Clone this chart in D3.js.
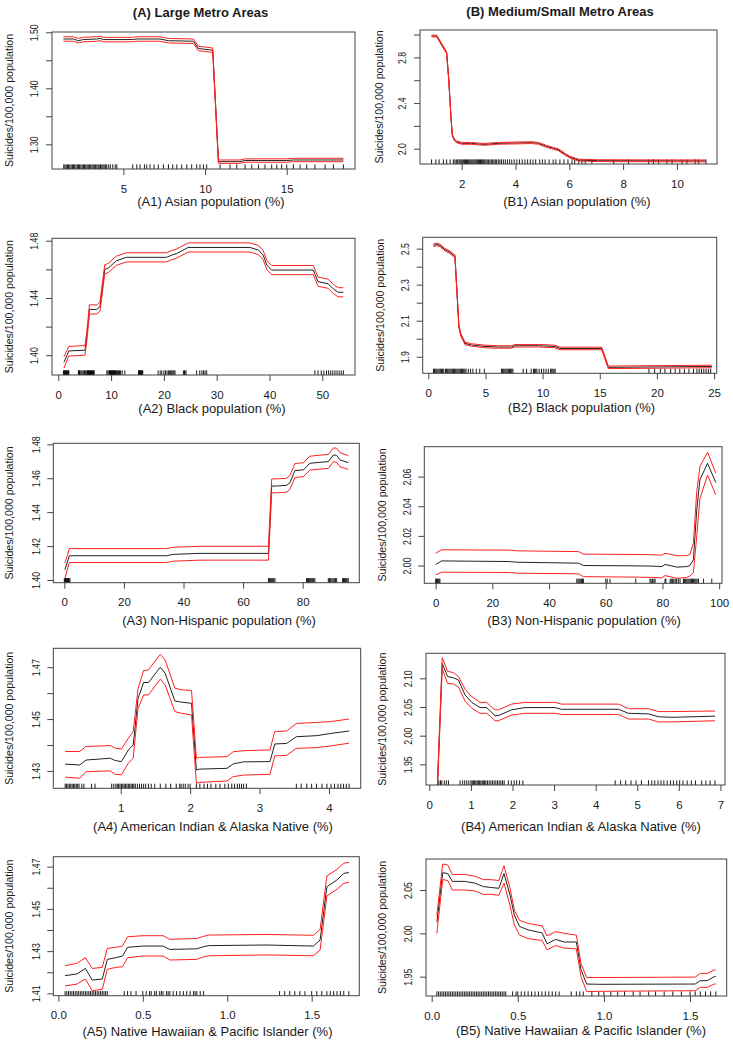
<!DOCTYPE html>
<html><head><meta charset="utf-8">
<script src="https://cdn.jsdelivr.net/npm/d3@7"></script>
<style>
html,body{margin:0;padding:0;background:#fff;}
svg{display:block;font-family:"Liberation Sans",Arial,Helvetica,sans-serif;}
</style></head><body>
<svg id="chart" width="733" height="1043"></svg>
<script>
// ---------------- DATA ----------------
const columnTitles = ["(A) Large Metro Areas", "(B) Medium/Small Metro Areas"];
const yAxisTitle = "Suicides/100,000 population";
const xAxisTitles = [
  "(A1) Asian population (%)", "(B1) Asian population (%)",
  "(A2) Black population (%)", "(B2) Black population (%)",
  "(A3) Non-Hispanic population (%)", "(B3) Non-Hispanic population (%)",
  "(A4) American Indian & Alaska Native (%)", "(B4) American Indian & Alaska Native (%)",
  "(A5) Native Hawaiian & Pacific Islander (%)", "(B5) Native Hawaiian & Pacific Islander (%)"
];

// A1 Asian, large metro
const a1X    = [1.33,1.94,2.24,2.55,3.37,3.57,3.78,5.61,5.82,7.24,7.76,9.29,9.59,9.90,10.47,10.82,12.14,12.45,15.0,15.41,18.47];
const a1Mean = [1.488,1.488,1.485,1.487,1.488,1.489,1.487,1.487,1.488,1.488,1.485,1.484,1.471,1.470,1.468,1.269,1.269,1.271,1.271,1.272,1.272];
const a1Hi   = [1.492,1.492,1.489,1.491,1.492,1.493,1.491,1.491,1.492,1.492,1.489,1.488,1.475,1.474,1.472,1.272,1.272,1.274,1.274,1.275,1.275];
const a1Lo   = [1.484,1.484,1.481,1.483,1.484,1.485,1.483,1.483,1.484,1.484,1.481,1.480,1.467,1.466,1.464,1.266,1.266,1.268,1.268,1.269,1.269];
const a1Rug  = [1.35,1.42,1.5,1.58,1.65,1.72,1.8,1.88,1.95,2.02,2.1,2.18,2.25,2.32,2.4,2.48,2.55,2.62,2.7,2.78,2.85,2.92,3.0,3.08,3.15,3.22,3.3,3.38,3.45,3.52,3.6,3.68,3.75,3.82,3.9,3.98,4.1,4.2,4.35,4.5,4.6,
  5.57,5.82,6.02,6.29,6.43,6.63,6.88,7.14,7.45,7.76,8.02,8.27,8.57,8.88,9.18,9.49,9.69,9.9,10.1,10.92,11.53,11.94,12.45,12.86,13.27,13.67,14.08,14.39,14.69,15.0,15.41,15.82,16.22,16.73,17.35,17.86,18.47];
const a1XTicks = [5,10,15];
const a1YTicks = [1.30,1.35,1.40,1.45,1.50];
const a1YLabeled = [1.30,1.40,1.50];

// B1 Asian, medium/small metro
const b1X    = [0.88,1.07,1.44,1.52,1.60,1.65,1.72,1.81,2.0,2.37,2.62,2.87,3.36,4.6,4.85,5.16,5.41,5.6,5.85,6.03,6.34,7.09,11.08];
const b1Mean = [2.987,2.987,2.84,2.60,2.28,2.12,2.08,2.06,2.047,2.047,2.041,2.038,2.047,2.053,2.047,2.02,2.003,1.99,1.95,1.925,1.90,1.895,1.893];
const b1Hi   = [2.995,2.995,2.848,2.608,2.288,2.128,2.088,2.068,2.055,2.055,2.049,2.046,2.055,2.061,2.055,2.028,2.011,1.998,1.958,1.933,1.908,1.903,1.901];
const b1Lo   = [2.979,2.979,2.832,2.592,2.272,2.112,2.072,2.052,2.039,2.039,2.033,2.030,2.039,2.045,2.039,2.012,1.995,1.982,1.942,1.917,1.892,1.887,1.885];
const b1Rug  = [0.88,1.04,1.16,1.32,1.44,1.57,1.69,1.75,1.8,1.85,1.9,1.94,1.98,2.02,2.06,2.1,2.14,2.18,2.22,2.26,2.3,2.34,2.38,2.42,2.46,2.5,2.54,2.58,2.62,2.66,2.7,2.74,2.78,2.82,2.86,2.9,2.95,3.0,3.05,3.1,3.15,3.2,3.25,3.3,3.36,3.42,3.48,3.55,3.62,3.7,3.78,3.86,3.95,4.05,4.15,4.25,4.35,4.45,4.55,4.65,4.75,4.9,5.0,5.1,5.25,5.4,5.5,5.65,5.8,5.95,6.1,6.2,6.35,6.47,6.59,6.84,7.65,8.2,8.95,9.13,9.32,9.63,9.82,10.19,10.37,10.68,10.81,11.08];
const b1XTicks = [2,4,6,8,10];
const b1YTicks = [2.0,2.2,2.4,2.6,2.8,3.0];
const b1YLabeled = [2.0,2.4,2.8];

// A2 Black, large metro
const a2X    = [1.07,2.0,5.05,5.4,5.9,7.3,7.9,8.8,9.5,11.0,12.9,20.5,21.5,22.4,24.6,36.3,37.9,38.8,39.5,40.4,48.3,49.2,51.1,52.1,53.0,54.0];
const a2Mean = [1.3950,1.4030,1.4035,1.4130,1.4320,1.4320,1.4340,1.4600,1.4610,1.4660,1.4684,1.4684,1.4700,1.4710,1.4753,1.4753,1.4735,1.4700,1.4630,1.4595,1.4595,1.4514,1.4500,1.4463,1.4440,1.4440];
const a2Hi   = [1.3990,1.4062,1.4067,1.4162,1.4352,1.4352,1.4372,1.4632,1.4642,1.4692,1.4716,1.4716,1.4732,1.4742,1.4785,1.4785,1.4767,1.4732,1.4662,1.4627,1.4627,1.4546,1.4532,1.4495,1.4472,1.4472];
const a2Lo   = [1.3910,1.3995,1.4000,1.4095,1.4288,1.4288,1.4308,1.4568,1.4578,1.4628,1.4652,1.4652,1.4668,1.4678,1.4721,1.4721,1.4703,1.4668,1.4598,1.4563,1.4563,1.4482,1.4468,1.4431,1.4408,1.4408];
const a2Rug  = [1.0,1.1,1.2,1.3,1.4,1.5,1.6,1.7,1.8,1.9,2.0,
  3.8,3.9,4.0,4.1,4.3,4.5,4.7,4.9,5.0,5.2,5.4,5.5,5.6,5.7,5.8,5.9,6.0,6.1,6.2,6.3,6.4,6.5,6.6,6.7,6.8,
  9.2,9.4,9.6,9.7,9.8,9.9,10.0,10.1,10.2,10.3,10.4,10.5,10.6,10.7,10.8,10.9,11.0,11.2,11.4,11.6,11.8,12.1,12.6,
  15.2,15.3,15.4,15.5,15.6,15.7,15.8,15.9,16.0,
  18.9,19.3,19.6,20.0,20.3,20.6,20.9,21.1,21.3,21.5,21.7,21.9,22.1,
  23.7,23.9,24.0,24.2, 26.2,26.8,27.2,27.5,27.8,28.1,
  48.6,49.2,49.8,50.3,50.8,51.2,51.6,52.0,52.4,52.8,53.2,53.6,54.0];
const a2XTicks = [0,10,20,30,40,50];
const a2YTicks = [1.40,1.42,1.44,1.46,1.48];
const a2YLabeled = [1.40,1.44,1.48];

// B2 Black, medium/small metro
const b2X    = [0.44,0.73,1.02,1.46,1.9,2.19,2.33,2.68,2.86,3.21,3.79,4.96,6.13,7.29,7.58,9.63,11.08,11.52,15.17,15.75,24.8];
const b2Mean = [2.518,2.524,2.518,2.494,2.48,2.463,2.459,2.066,2.02,1.974,1.965,1.957,1.954,1.954,1.961,1.961,1.957,1.946,1.946,1.841,1.846];
const b2Hi   = [2.525,2.531,2.525,2.501,2.487,2.470,2.466,2.073,2.027,1.981,1.972,1.964,1.961,1.961,1.968,1.968,1.964,1.953,1.953,1.848,1.853];
const b2Lo   = [2.511,2.517,2.511,2.487,2.473,2.456,2.452,2.059,2.013,1.967,1.958,1.950,1.947,1.947,1.954,1.954,1.950,1.939,1.939,1.834,1.839];
const b2Rug  = [0.45,0.55,0.65,0.75,0.85,0.95,1.05,1.15,1.25,1.35,1.5,1.6,1.7,1.8,1.9,2.0,2.1,2.2,2.3,2.4,2.5,2.6,2.7,2.8,2.9,3.0,3.1,3.2,3.3,
  3.5,3.7,3.9,4.2,4.5,4.9, 6.4,6.5,6.6,6.7,6.8,6.9,7.0,7.1,7.2,7.3,7.4, 8.3,8.6,9.0, 9.2,9.3,9.4,9.5,
  9.7,9.9,10.1,10.3,10.5,10.7,10.8,10.9,11.0,11.1,
  19.3,19.8,20.3,20.7,21.2,21.6,22.0,22.4,22.8,23.2,23.5,23.7,23.9,24.1,24.3,24.5,24.7];
const b2XTicks = [0,5,10,15,20,25];
const b2YTicks = [1.9,2.0,2.1,2.2,2.3,2.4,2.5];
const b2YLabeled = [1.9,2.1,2.3,2.5];

// A3 Non-Hispanic, large metro
const a3X    = [0.2,1.7,34.3,36.6,45.5,68.5,69.6,71.3,74.6,75.7,77.4,80.2,82.4,85.8,88.6,90.3,91.4,92.5,95.3];
const a3Mean = [1.4060,1.4143,1.4143,1.4151,1.4157,1.4157,1.4554,1.4554,1.4558,1.4574,1.4645,1.4649,1.4688,1.4694,1.4698,1.4737,1.4735,1.4708,1.4692];
const a3Hi   = [1.4100,1.4185,1.4185,1.4193,1.4199,1.4199,1.4596,1.4596,1.4600,1.4616,1.4687,1.4691,1.4730,1.4736,1.4740,1.4779,1.4777,1.4750,1.4734];
const a3Lo   = [1.4010,1.4103,1.4103,1.4111,1.4117,1.4117,1.4514,1.4514,1.4518,1.4534,1.4605,1.4609,1.4648,1.4654,1.4658,1.4697,1.4695,1.4668,1.4652];
const a3Rug  = [0.0,0.2,0.4,0.6,0.8,1.0,1.2,1.4,1.6,1.9,
  68.5,68.8,69.1,69.4,69.7,70.0,70.3,70.7,
  81.3,81.6,81.9,82.2,82.5,82.8,83.1,83.4,83.7,84.1,
  88.6,89.0,89.4,89.8,90.2,90.6,91.0,91.4,
  93.4,93.7,94.0,94.3,94.6,94.9,95.3];
const a3XTicks = [0,20,40,60,80];
const a3YTicks = [1.40,1.42,1.44,1.46,1.48];
const a3YLabeled = [1.40,1.42,1.44,1.46,1.48];

// B3 Non-Hispanic, medium/small metro
const b3X    = [0,2.1,25.6,29.2,50.4,52.1,69.2,76.2,79.8,80.9,82.7,85.1,88.6,89.7,90.9,92.1,93.2,95.9,98.8];
const b3Mean = [2.0007,2.0031,2.0027,2.0022,2.0016,2.0000,1.9998,1.9996,1.9993,2.0007,2.0000,1.9989,1.9993,2.0000,2.0038,2.0375,2.0578,2.0690,2.0560];
const b3Hi   = [2.0083,2.0106,2.0104,2.0099,2.0094,2.0077,2.0075,2.0073,2.0070,2.0083,2.0076,2.0066,2.0067,2.0075,2.0150,2.0500,2.0667,2.0765,2.0623];
const b3Lo   = [1.9937,1.9955,1.9953,1.9948,1.9944,1.9925,1.9922,1.9920,1.9917,1.9932,1.9925,1.9913,1.9920,1.9930,1.9950,2.0200,2.0450,2.0611,2.0477];
const b3Rug  = [0,0.3,0.6,0.9,1.2,1.5, 49.8,50.2,50.6,51.0,51.4,51.8,52.1, 60.0,60.5,61.5, 70.6,
  75.6,76.0,76.5,77.0,77.4, 80.9,81.2, 82.7,83.1,83.5,84.0,84.5,85.0,85.6,86.2,
  87.4,87.8,88.2,88.6,89.0,89.4,89.8,90.2,90.6,91.0,91.4,91.8,92.2,92.7, 94.5,97.4];
const b3XTicks = [0,20,40,60,80,100];
const b3YTicks = [2.00,2.02,2.04,2.06];
const b3YLabeled = [2.00,2.02,2.04,2.06];

// A4 American Indian & Alaska Native, large metro
const a4X    = [0.2,0.41,0.5,0.85,0.92,1.01,1.11,1.18,1.25,1.33,1.40,1.57,1.64,1.78,1.88,2.02,2.09,2.14,2.53,2.62,2.77,3.15,3.22,3.39,3.53,3.82,4.01,4.29];
const a4Mean = [1.4326,1.4323,1.4342,1.4349,1.4340,1.4336,1.4381,1.4400,1.4580,1.4641,1.4641,1.4700,1.4677,1.4570,1.4565,1.4561,1.4304,1.4307,1.4310,1.4327,1.4335,1.4336,1.4404,1.4406,1.4432,1.4436,1.4444,1.4454];
const a4Hi   = [1.4375,1.4375,1.4394,1.4398,1.4388,1.4384,1.4426,1.4452,1.4619,1.4687,1.4690,1.4750,1.4728,1.4619,1.4613,1.4610,1.4349,1.4352,1.4355,1.4374,1.4378,1.4381,1.4452,1.4454,1.4483,1.4487,1.4490,1.4500];
const a4Lo   = [1.4276,1.4272,1.4297,1.4300,1.4287,1.4285,1.4330,1.4349,1.4542,1.4593,1.4593,1.4654,1.4632,1.4529,1.4522,1.4516,1.4252,1.4256,1.4261,1.4278,1.4284,1.4287,1.4358,1.4360,1.4387,1.4390,1.4396,1.4407];
const a4Rug  = [0.2,0.22,0.24,0.26,0.28,0.3,0.32,0.34,0.36,0.38,0.4,0.44,0.47,0.58,0.63,
  0.87,0.9,0.93,0.95,0.97,0.99,1.01,1.03,1.05,1.07,1.09,1.11,1.13,1.15,1.17,1.19,1.21,1.24,1.27,1.3,1.33,1.36,1.4,1.44,1.49,
  1.57,1.65,1.72,1.8, 1.85,1.87,1.9,1.93,1.97,2.0,
  2.09,2.14,2.2,2.25,2.3,2.37,2.43,2.5,2.55,2.6,2.64,2.68,2.71,2.74,2.77,2.81,
  3.53,3.6,3.68,3.75,3.82,3.9,3.97,4.03,4.08,4.13,4.17,4.21,4.25,4.29];
const a4XTicks = [1,2,3,4];
const a4YTicks = [1.43,1.44,1.45,1.46,1.47];
const a4YLabeled = [1.43,1.45,1.47];

// B4 American Indian & Alaska Native, medium/small metro
const b4X    = [0.2,0.31,0.44,0.58,0.70,0.86,1.02,1.22,1.38,1.48,1.58,1.66,1.98,2.30,3.02,3.18,4.55,4.79,5.27,5.51,5.83,6.87];
const b4Mean = [1.922,2.126,2.103,2.101,2.097,2.071,2.058,2.049,2.049,2.042,2.035,2.035,2.045,2.049,2.049,2.046,2.046,2.039,2.038,2.033,2.032,2.034];
const b4Hi   = [1.928,2.136,2.112,2.110,2.103,2.081,2.068,2.058,2.058,2.051,2.045,2.045,2.055,2.058,2.058,2.055,2.055,2.047,2.047,2.042,2.042,2.043];
const b4Lo   = [1.916,2.117,2.091,2.090,2.085,2.060,2.048,2.039,2.039,2.033,2.026,2.026,2.036,2.039,2.039,2.037,2.037,2.029,2.029,2.024,2.024,2.026];
const b4Rug  = [0.2,0.23,0.27,0.3,0.36,0.41,0.46,
  0.74,0.8,0.85,0.9,0.95,1.0,1.03,1.06,1.09,1.12,1.15,1.18,1.21,1.24,1.27,1.3,1.33,1.36,1.4,1.44,1.48,1.52,1.56,1.6,1.64,1.68,1.72,1.76,1.8,
  1.9,1.97,2.04,2.1,2.17,2.25,
  4.47,4.6,4.72,4.85,4.97,5.1,5.27,5.35,5.42,5.5,5.57,5.64,5.72,5.8,5.87,5.95,6.02,6.1,6.2,6.3,6.4,6.55,6.65,6.75,6.87];
const b4XTicks = [0,1,2,3,4,5,6,7];
const b4YTicks = [1.95,2.00,2.05,2.10];
const b4YLabeled = [1.95,2.00,2.05,2.10];

// A5 Native Hawaiian & Pacific Islander, large metro
const a5X    = [0.04,0.11,0.16,0.20,0.26,0.29,0.34,0.38,0.41,0.50,0.62,0.66,0.82,0.86,0.89,1.23,1.51,1.55,1.59,1.65,1.69,1.72];
const a5Mean = [1.4184,1.4192,1.4218,1.4163,1.4168,1.4261,1.4269,1.4277,1.4318,1.4324,1.4324,1.4308,1.4311,1.4321,1.4326,1.4329,1.4324,1.4353,1.4605,1.4637,1.4668,1.4672];
const a5Hi   = [1.4231,1.4242,1.4269,1.4218,1.4223,1.4313,1.4318,1.4324,1.4368,1.4373,1.4373,1.4356,1.4360,1.4370,1.4376,1.4379,1.4375,1.4403,1.4656,1.4687,1.4716,1.4720];
const a5Lo   = [1.4135,1.4144,1.4168,1.4113,1.4119,1.4214,1.4223,1.4226,1.4269,1.4277,1.4277,1.4258,1.4261,1.4273,1.4278,1.4282,1.4278,1.4305,1.4561,1.4593,1.4621,1.4626];
const a5Rug  = [0.04,0.05,0.06,0.07,0.08,0.09,0.1,0.11,0.12,0.13,0.14,0.15,0.16,0.17,0.18,0.19,0.2,0.21,0.22,0.23,0.24,0.25,0.26,0.27,0.28,0.29,
  0.39,0.41,0.43,0.46,
  0.5,0.52,0.54,0.55,0.57,0.58,0.6,0.61,0.62,0.64,0.65,0.66,0.68,0.7,0.72,0.74,0.76,0.78,0.8,0.81,0.82,0.84,0.86,
  1.31,1.34,1.37,1.4,1.43,1.46,1.5,1.53,1.56,1.59,1.61,1.63,1.65,1.67,1.69,1.72];
const a5XTicks = [0,0.5,1.0,1.5];
const a5YTicks = [1.41,1.42,1.43,1.44,1.45,1.46,1.47];
const a5YLabeled = [1.41,1.43,1.45,1.47];

// B5 Native Hawaiian & Pacific Islander, medium/small metro
const b5X    = [0.03,0.064,0.093,0.12,0.19,0.25,0.30,0.34,0.39,0.42,0.455,0.48,0.51,0.56,0.63,0.64,0.67,0.72,0.77,0.84,0.867,0.90,0.97,1.53,1.56,1.60,1.64,1.65];
const b5Mean = [2.013,2.070,2.069,2.060,2.060,2.058,2.054,2.053,2.052,2.069,2.044,2.021,2.008,2.004,2.001,2.001,1.988,1.993,1.990,1.990,1.958,1.9415,1.9412,1.9415,1.9454,1.9454,1.950,1.950];
const b5Hi   = [2.021,2.080,2.079,2.068,2.068,2.066,2.062,2.062,2.061,2.078,2.052,2.027,2.015,2.0115,2.009,2.009,1.997,2.002,2.000,1.998,1.965,1.949,1.949,1.9495,1.9538,1.9538,1.9577,1.9577];
const b5Lo   = [2.000,2.062,2.061,2.050,2.050,2.049,2.045,2.045,2.044,2.058,2.032,2.0096,1.998,1.994,1.992,1.992,1.981,1.986,1.983,1.982,1.950,1.9327,1.9331,1.9338,1.9377,1.9377,1.9415,1.9415];
const b5Rug  = [0.03,0.04,0.05,0.06,0.07,0.08,0.09,0.1,0.11,0.12,0.13,0.14,0.15,0.16,0.17,0.18,0.19,0.2,0.21,0.22,0.23,0.24,0.25,0.26,0.27,0.28,0.29,0.3,0.31,0.32,0.33,0.34,0.35,0.36,0.37,0.38,0.39,0.4,0.41,0.42,0.43,
  0.47,0.49,0.5,0.52,0.54,0.56,0.58,0.6,0.62,0.64,0.66,0.68,0.7,0.72,0.74,
  0.81,0.84,0.86,0.88,
  0.93,0.97,1.0,1.04,1.08,1.12,1.17,1.21,1.26,1.3,1.35,1.4,1.45,1.5,1.53,1.56,1.59,1.62,1.65];
const b5XTicks = [0,0.5,1.0,1.5];
const b5YTicks = [1.95,2.00,2.05];
const b5YLabeled = [1.95,2.00,2.05];

// ---------------- LAYOUT ----------------
const panels = [
  {box:[52,32,355,169],      xDom:[0.63,19.18],  yDom:[1.2559,1.5005], x:a1X,m:a1Mean,hi:a1Hi,lo:a1Lo,rug:a1Rug,xt:a1XTicks,yt:a1YTicks,yl:a1YLabeled,xf:"d",  yf:".2f",lab:xAxisTitles[0],labPos:[211,201.5],ylx:9},
  {box:[420,30,717,164],     xDom:[0.45,11.49],  yDom:[1.866,3.04],    x:b1X,m:b1Mean,hi:b1Hi,lo:b1Lo,rug:b1Rug,xt:b1XTicks,yt:b1YTicks,yl:b1YLabeled,xf:"d",  yf:".1f",lab:xAxisTitles[1],labPos:[577,201.5],ylx:378.5},
  {box:[52,238.3,355,375],   xDom:[-1.19,56.2],  yDom:[1.3862,1.4817], x:a2X,m:a2Mean,hi:a2Hi,lo:a2Lo,rug:a2Rug,xt:a2XTicks,yt:a2YTicks,yl:a2YLabeled,xf:"d",  yf:".2f",lab:xAxisTitles[2],labPos:[212,408],ylx:9},
  {box:[422.7,237.3,716.7,373.3], xDom:[-0.49,25.23], yDom:[1.808,2.563], x:b2X,m:b2Mean,hi:b2Hi,lo:b2Lo,rug:b2Rug,xt:b2XTicks,yt:b2YTicks,yl:b2YLabeled,xf:"d",  yf:".1f",lab:xAxisTitles[3],labPos:[581.5,407],ylx:380},
  {box:[53.3,443.3,359.3,582.7], xDom:[-3.7,99.0], yDom:[1.3984,1.4806], x:a3X,m:a3Mean,hi:a3Hi,lo:a3Lo,rug:a3Rug,xt:a3XTicks,yt:a3YTicks,yl:a3YLabeled,xf:"d",  yf:".2f",lab:xAxisTitles[4],labPos:[219,620],ylx:9},
  {box:[424.3,446.7,722,583.3],  xDom:[-4.0,101.0], yDom:[1.988,2.0802], x:b3X,m:b3Mean,hi:b3Hi,lo:b3Lo,rug:b3Rug,xt:b3XTicks,yt:b3YTicks,yl:b3YLabeled,xf:"d",  yf:".2f",lab:xAxisTitles[5],labPos:[584,620],ylx:381.7},
  {box:[53.3,648.3,360.7,788.3], xDom:[0.029,4.457], yDom:[1.4233,1.4773], x:a4X,m:a4Mean,hi:a4Hi,lo:a4Lo,rug:a4Rug,xt:a4XTicks,yt:a4YTicks,yl:a4YLabeled,xf:"d",  yf:".2f",lab:xAxisTitles[6],labPos:[213,826],ylx:9},
  {box:[426,653.3,725,785],      xDom:[-0.08,7.11], yDom:[1.914,2.1436], x:b4X,m:b4Mean,hi:b4Hi,lo:b4Lo,rug:b4Rug,xt:b4XTicks,yt:b4YTicks,yl:b4YLabeled,xf:"d",  yf:".2f",lab:xAxisTitles[7],labPos:[581,826],ylx:381.7},
  {box:[53.3,856.7,359.3,995.7], xDom:[-0.03,1.782], yDom:[1.4089,1.4747], x:a5X,m:a5Mean,hi:a5Hi,lo:a5Lo,rug:a5Rug,xt:a5XTicks,yt:a5YTicks,yl:a5YLabeled,xf:".1f",yf:".2f",lab:xAxisTitles[8],labPos:[207.5,1031.5],ylx:9},
  {box:[426,859,726.7,996],      xDom:[-0.033,1.713], yDom:[1.9277,2.0858], x:b5X,m:b5Mean,hi:b5Hi,lo:b5Lo,rug:b5Rug,xt:b5XTicks,yt:b5YTicks,yl:b5YLabeled,xf:".1f",yf:".2f",lab:xAxisTitles[9],labPos:[581,1030],ylx:381.7}
];

const svg = d3.select("#chart");
const TXT = "#1a1a1a";

svg.append("text").attr("x",200.5).attr("y",12).attr("text-anchor","middle").attr("dominant-baseline","central")
  .attr("font-size",13).attr("font-weight","bold").attr("fill",TXT).text(columnTitles[0]);
svg.append("text").attr("x",560).attr("y",11.5).attr("text-anchor","middle").attr("dominant-baseline","central")
  .attr("font-size",13).attr("font-weight","bold").attr("fill",TXT).text(columnTitles[1]);

panels.forEach(p => {
  const [l,t,r,b] = p.box;
  const x = d3.scaleLinear().domain(p.xDom).range([l,r]);
  const y = d3.scaleLinear().domain(p.yDom).range([b,t]);
  const g = svg.append("g");

  // rug
  g.append("g").selectAll("line").data(p.rug).join("line")
    .attr("x1",d=>x(d)).attr("x2",d=>x(d)).attr("y1",b).attr("y2",b-4.6)
    .attr("stroke","#000").attr("stroke-width",0.9);

  const line = d3.line().x(d=>x(d[0])).y(d=>y(d[1]));
  g.append("path").attr("d",line(d3.zip(p.x,p.m))).attr("fill","none").attr("stroke","#222").attr("stroke-width",1);
  g.append("path").attr("d",line(d3.zip(p.x,p.hi))).attr("fill","none").attr("stroke","#ff2020").attr("stroke-width",1);
  g.append("path").attr("d",line(d3.zip(p.x,p.lo))).attr("fill","none").attr("stroke","#ff2020").attr("stroke-width",1);

  // box
  g.append("rect").attr("x",l).attr("y",t).attr("width",r-l).attr("height",b-t)
    .attr("fill","none").attr("stroke","#444").attr("stroke-width",1);

  // x axis
  const fx = d3.format(p.xf);
  const xa = g.append("g").attr("transform",`translate(0,${b})`)
    .call(d3.axisBottom(x).tickValues(p.xt).tickSize(6).tickPadding(9.5).tickFormat(fx));
  xa.select(".domain").remove();
  xa.selectAll(".tick line").attr("stroke","#444");
  xa.selectAll("text").attr("font-size",11.5).attr("fill",TXT).attr("font-family",null);

  // y axis
  const fy = d3.format(p.yf);
  const ya = g.append("g").attr("transform",`translate(${l},0)`)
    .call(d3.axisLeft(y).tickValues(p.yt).tickSize(6).tickFormat(d => p.yl.some(v=>Math.abs(v-d)<1e-9) ? fy(d) : ""));
  ya.select(".domain").remove();
  ya.selectAll(".tick line").attr("stroke","#444");
  ya.selectAll("text").attr("x",null).attr("dy",null).attr("font-family",null)
    .attr("text-anchor","middle").attr("dominant-baseline","central")
    .attr("font-size",11.5).attr("fill",TXT)
    .attr("transform","translate(-17.5,0) rotate(-90) scale(0.76,1)");

  // axis titles
  g.append("text").attr("x",p.labPos[0]).attr("y",p.labPos[1]).attr("text-anchor","middle").attr("dominant-baseline","central")
    .attr("font-size",13).attr("fill",TXT).text(p.lab);
  g.append("text").attr("transform",`translate(${p.ylx},${(t+b)/2}) rotate(-90)`)
    .attr("text-anchor","middle").attr("dominant-baseline","central")
    .attr("font-size",10.6).attr("fill",TXT).text(yAxisTitle);
});
</script></body></html>
